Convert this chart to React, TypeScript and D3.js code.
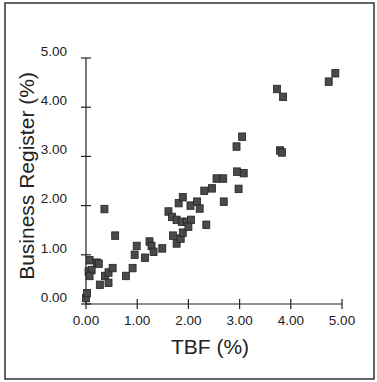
import React from 'react';
import * as d3 from 'd3';

// TBF (%) vs Business Register (%)
const tbf = [
  0.0, 0.02, 0.07, 0.21, 0.25, 0.05, 0.11, 0.07, 0.27, 0.36, 0.57,
  0.37, 0.44, 0.52, 0.44, 0.78, 0.91, 0.95, 0.99, 1.15, 1.24, 1.28,
  1.32, 1.49, 1.70, 1.77, 1.85, 1.89, 1.61, 1.68, 1.77, 1.87, 1.97,
  2.05, 2.0, 1.81, 1.89, 2.04, 2.17, 2.22, 2.35, 2.31, 2.46, 2.55,
  2.68, 2.69, 2.94, 3.05, 2.95, 3.08, 2.98, 3.73, 3.85, 3.79, 3.83,
  4.74, 4.87,
];
const register = [
  0.12, 0.22, 0.89, 0.84, 0.82, 0.66, 0.69, 0.57, 0.39, 1.93, 1.39,
  0.57, 0.64, 0.73, 0.43, 0.57, 0.73, 1.0, 1.18, 0.94, 1.27, 1.18,
  1.06, 1.13, 1.39, 1.23, 1.33, 1.45, 1.88, 1.77, 1.71, 1.67, 1.67,
  1.71, 1.57, 2.05, 2.17, 2.0, 2.08, 1.94, 1.61, 2.30, 2.35, 2.55,
  2.55, 2.08, 3.2, 3.40, 2.69, 2.66, 2.34, 4.37, 4.21, 3.12, 3.08,
  4.52, 4.69,
];
const ticks = [0, 1, 2, 3, 4, 5];

const W = 377;
const H = 382;
const font = '"Liberation Sans", Arial, Helvetica, sans-serif';

export default function App() {
  const x = d3.scaleLinear().domain([0, 5]).range([86, 342]);
  const y = d3.scaleLinear().domain([0, 5]).range([304, 58]);
  const fmt = d3.format('.2f');

  return (
    <svg width={W} height={H} style={{ position: 'absolute', left: 0, top: 0 }} fontFamily={font}>
      <rect x={0} y={0} width={W} height={H} fill="#fff" />
      <rect x={5} y={3} width={369} height={376} fill="none" stroke="#333" strokeWidth={1.5} />

      {/* axes */}
      <line x1={x(0)} x2={x(0)} y1={y(0)} y2={y(5)} stroke="#222" strokeWidth={1.2} />
      <line x1={x(0)} x2={x(5)} y1={y(0)} y2={y(0)} stroke="#222" strokeWidth={1.2} />
      {ticks.map(t => (
        <g key={'y' + t}>
          <line x1={x(0) - 5} x2={x(0) + 5} y1={y(t)} y2={y(t)} stroke="#222" strokeWidth={1.2} />
          <text x={67} y={y(t) - 7} dy="0.35em" textAnchor="end" fontSize={13.5} fill="#222">{fmt(t)}</text>
        </g>
      ))}
      {ticks.map(t => (
        <g key={'x' + t}>
          <line x1={x(t)} x2={x(t)} y1={y(0) - 5} y2={y(0) + 5} stroke="#222" strokeWidth={1.2} />
          <text x={x(t)} y={320} dy="0.35em" textAnchor="middle" fontSize={13.5} fill="#222">{fmt(t)}</text>
        </g>
      ))}

      {/* points */}
      {tbf.map((v, i) => (
        <rect key={i} x={x(v) - 3.5} y={y(register[i]) - 3.75} width={7} height={7.5}
          fill="#4a4a4a" stroke="#222" strokeWidth={0.8} />
      ))}

      <text x={210} y={347} dy="0.35em" textAnchor="middle" fontSize={21} fill="#222">TBF (%)</text>
      <text transform={`translate(27,176) rotate(-90)`} dy="0.35em" textAnchor="middle" fontSize={21} fill="#222">
        Business Register (%)
      </text>
    </svg>
  );
}
